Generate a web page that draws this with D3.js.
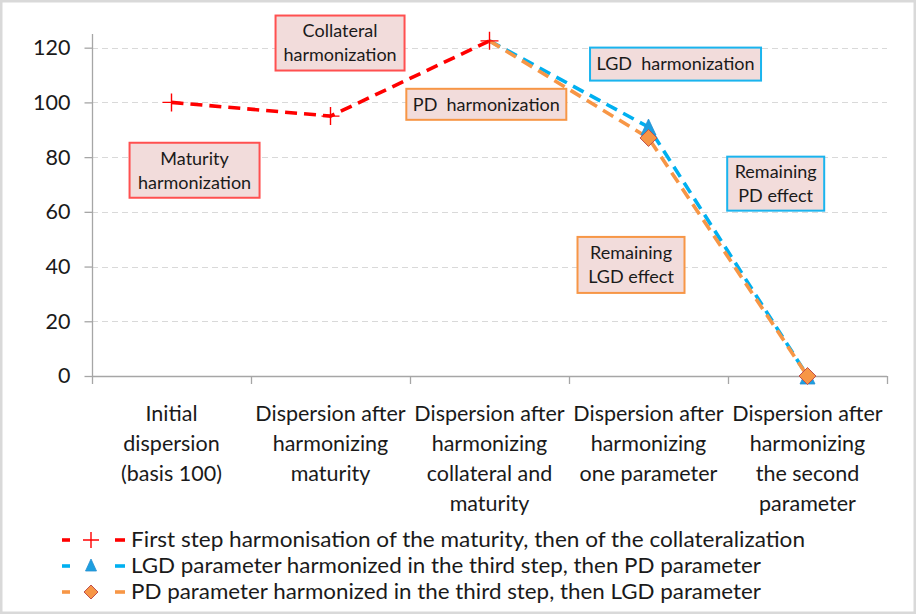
<!DOCTYPE html>
<html>
<head>
<meta charset="utf-8">
<script src="https://cdn.jsdelivr.net/npm/d3@7/dist/d3.min.js"></script>
<style>
  html, body { margin: 0; padding: 0; background: #fff; }
  svg { display: block; }
  text { font-family: Lato, "Open Sans", "DejaVu Sans", sans-serif; fill: #1a1a1a; }
</style>
</head>
<body>
<svg id="chart" width="916" height="614"></svg>
<script>
// Category labels (each entry is a list of lines)
const categories = [
  ["Initial", "dispersion", "(basis 100)"],
  ["Dispersion after", "harmonizing", "maturity"],
  ["Dispersion after", "harmonizing", "collateral and", "maturity"],
  ["Dispersion after", "harmonizing", "one parameter"],
  ["Dispersion after", "harmonizing", "the second", "parameter"]
];

// Series values (null = no point in that category)
const firstStepValues = [100, 95, 122.5, null, null];
const lgdThenPdValues = [null, null, 122.5, 91, 0];
const pdThenLgdValues = [null, null, 122.5, 87, 0];

const yTicks = [0, 20, 40, 60, 80, 100, 120];

const seriesNames = [
  "First step harmonisation of the maturity, then of the collateralization",
  "LGD parameter harmonized in the third step, then PD parameter",
  "PD parameter harmonized in the third step, then LGD parameter"
];

// Callout labels, anchored in data units (category index, value)
const calloutLines = [
  ["Collateral", "harmonization"],
  ["Maturity", "harmonization"],
  ["PD  harmonization"],
  ["LGD  harmonization"],
  ["Remaining", "PD effect"],
  ["Remaining", "LGD effect"]
];
const calloutCatPos = [1.06, 0.145, 1.98, 3.17, 3.80, 2.89];
const calloutValPos = [121.7, 75.2, 99.3, 114.0, 70.3, 40.6];

// ---- layout & styles ----
const W = 916, H = 614;
const plot = { left: 92, right: 887, top: 34, bottom: 376 };
const RED = "#ff0000", BLUE = "#00b0f0", ORANGE = "#f79646";
const calloutStyle = [
  { stroke: "#ff5050", w: 129, h: 55 },
  { stroke: "#ff5050", w: 130, h: 55 },
  { stroke: ORANGE, w: 160, h: 31 },
  { stroke: "#1ab4ee", w: 171, h: 33 },
  { stroke: "#1ab4ee", w: 97, h: 54 },
  { stroke: ORANGE, w: 107, h: 56 }
];
const legendWidths = [674, 630, 630];

const svg = d3.select("#chart");

// outer frame
svg.append("rect")
  .attr("x", 1.25).attr("y", 1.25)
  .attr("width", W - 2.5).attr("height", H - 2.5)
  .attr("fill", "#fff").attr("stroke", "#d9d9d9").attr("stroke-width", 2.5);

const x = d3.scaleBand()
  .domain(d3.range(categories.length))
  .range([plot.left, plot.right])
  .padding(0);
const xc = i => x(i) + x.bandwidth() / 2;
const xf = f => plot.left + x.bandwidth() * (f + 0.5);

const y = d3.scaleLinear().domain([0, 125]).range([plot.bottom, plot.top]);

// gridlines
svg.append("g")
  .selectAll("line")
  .data(yTicks.filter(t => t > 0))
  .join("line")
  .attr("x1", plot.left).attr("x2", plot.right)
  .attr("y1", d => Math.round(y(d)) + 0.5).attr("y2", d => Math.round(y(d)) + 0.5)
  .attr("stroke", "#d9d9d9").attr("stroke-width", 1)
  .attr("stroke-dasharray", "6 4");

// y axis
const yAxis = svg.append("g")
  .attr("transform", `translate(${plot.left + 0.5},0)`)
  .call(d3.axisLeft(y).tickValues(yTicks).tickSize(8).tickPadding(14));
yAxis.select(".domain").attr("stroke", "#a6a6a6").attr("stroke-width", 1.3)
  .attr("d", `M0,${plot.top}V${plot.bottom}`);
yAxis.selectAll(".tick line").attr("stroke", "#a6a6a6").attr("stroke-width", 1.3);
yAxis.selectAll(".tick text")
  .style("font-family", "Lato, sans-serif")
  .attr("font-size", 21.5).attr("fill", "#1a1a1a");

// x axis: ticks on category boundaries
const xAxisG = svg.append("g");
xAxisG.append("line")
  .attr("x1", plot.left).attr("x2", plot.right)
  .attr("y1", plot.bottom + 0.5).attr("y2", plot.bottom + 0.5)
  .attr("stroke", "#a6a6a6").attr("stroke-width", 1.3);
const boundaries = d3.range(categories.length).map(i => x(i)).concat([plot.right]);
xAxisG.selectAll("line.tk")
  .data(boundaries)
  .join("line").attr("class", "tk")
  .attr("x1", d => Math.round(d) + 0.5).attr("x2", d => Math.round(d) + 0.5)
  .attr("y1", plot.bottom).attr("y2", plot.bottom + 8)
  .attr("stroke", "#a6a6a6").attr("stroke-width", 1.3);

// category labels
const catG = svg.append("g");
categories.forEach((lines, i) => {
  const t = catG.append("text")
    .attr("text-anchor", "middle")
    .attr("font-size", 21.5);
  lines.forEach((ln, j) => {
    t.append("tspan")
      .attr("x", xc(i))
      .attr("y", 421 + j * 30)
      .text(ln);
  });
});

// callout boxes
calloutLines.forEach((lines, i) => {
  const cx = xf(calloutCatPos[i]);
  const cy = y(calloutValPos[i]);
  const st = calloutStyle[i];
  const g = svg.append("g");
  g.append("rect")
    .attr("x", cx - st.w / 2).attr("y", cy - st.h / 2)
    .attr("width", st.w).attr("height", st.h)
    .attr("fill", "#f2dcdb").attr("stroke", st.stroke).attr("stroke-width", 2);
  const lh = 24;
  const t = g.append("text").attr("text-anchor", "middle").attr("font-size", 18);
  lines.forEach((ln, j) => {
    t.append("tspan")
      .attr("x", cx)
      .attr("y", cy + (j - (lines.length - 1) / 2) * lh)
      .attr("dy", "0.35em")
      .style("white-space", "pre")
      .text(ln);
  });
});

// series lines
const line = d3.line()
  .defined(d => d.v !== null)
  .x(d => xc(d.i))
  .y(d => y(d.v));
const toPts = arr => arr.map((v, i) => ({ i, v }));

const seriesDefs = [
  { values: firstStepValues, color: RED },
  { values: lgdThenPdValues, color: BLUE },
  { values: pdThenLgdValues, color: ORANGE }
];
seriesDefs.forEach(s => {
  svg.append("path")
    .datum(toPts(s.values))
    .attr("d", line)
    .attr("fill", "none")
    .attr("stroke", s.color)
    .attr("stroke-width", 3.6)
    .attr("stroke-dasharray", "12 7");
});

// markers
function plus(g, cx, cy, r, color, sw) {
  g.append("path")
    .attr("d", `M${cx - r},${cy}H${cx + r}M${cx},${cy - r}V${cy + r}`)
    .attr("stroke", color).attr("stroke-width", sw).attr("fill", "none");
}
function triangle(g, cx, cy, w, h) {
  g.append("path")
    .attr("d", `M${cx},${cy - h / 2}L${cx + w / 2},${cy + h / 2}L${cx - w / 2},${cy + h / 2}Z`)
    .attr("fill", "#1c9fe0").attr("stroke", "#2a8fd0").attr("stroke-width", 0.8);
}
function diamond(g, cx, cy, r) {
  g.append("path")
    .attr("d", `M${cx},${cy - r}L${cx + r},${cy}L${cx},${cy + r}L${cx - r},${cy}Z`)
    .attr("fill", ORANGE).attr("stroke", "#c0504d").attr("stroke-width", 1);
}

const mk = svg.append("g");
toPts(firstStepValues).filter(d => d.v !== null)
  .forEach(d => plus(mk, xc(d.i), y(d.v), 9, RED, 1.4));
toPts(lgdThenPdValues).filter(d => d.v !== null && d.i > 2)
  .forEach(d => triangle(mk, xc(d.i), y(d.v), 15, 16));
toPts(pdThenLgdValues).filter(d => d.v !== null && d.i > 2)
  .forEach(d => diamond(mk, xc(d.i), y(d.v), 8.5));

// legend
const legendY = [540, 566, 592];
const legendColors = [RED, BLUE, ORANGE];
const lg = svg.append("g");
seriesNames.forEach((name, i) => {
  const cy = legendY[i];
  const c = legendColors[i];
  lg.append("line").attr("x1", 62).attr("x2", 70).attr("y1", cy).attr("y2", cy)
    .attr("stroke", c).attr("stroke-width", 3.6);
  lg.append("line").attr("x1", 115).attr("x2", 125).attr("y1", cy).attr("y2", cy)
    .attr("stroke", c).attr("stroke-width", 3.6);
  if (i === 0) plus(lg, 91, cy, 8, RED, 1.4);
  if (i === 1) triangle(lg, 91, cy - 1, 11, 12);
  if (i === 2) diamond(lg, 91, cy, 7);
  lg.append("text")
    .attr("x", 131).attr("y", cy).attr("dy", "0.35em")
    .attr("font-size", 21)
    .attr("textLength", legendWidths[i])
    .attr("lengthAdjust", "spacingAndGlyphs")
    .text(name);
});
</script>
</body>
</html>
